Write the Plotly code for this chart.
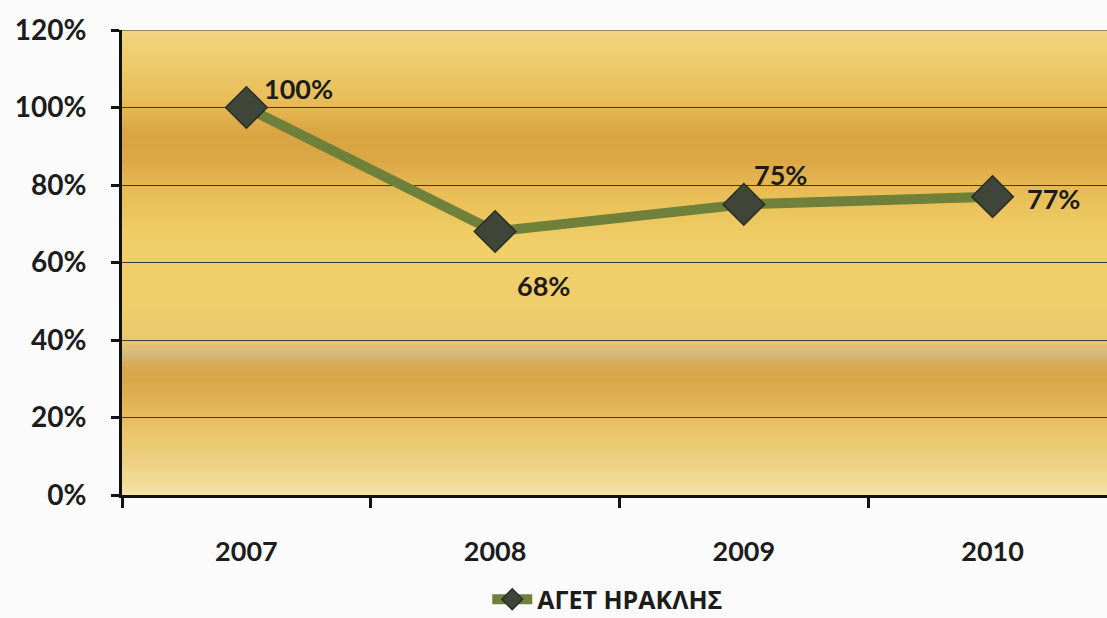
import plotly.graph_objects as go
import numpy as np

years = ["2007", "2008", "2009", "2010"]
values = [1.00, 0.68, 0.75, 0.77]
labels = ["100%", "68%", "75%", "77%"]
series_name = "ΑΓΕΤ ΗΡΑΚΛΗΣ"

# label offsets (pixels) relative to each point
label_shift = [(52, 19), (48, -54), (37, 30), (61, -2)]

FONT = "Lato"
TXT = "#1C1C1C"

fig = go.Figure()
fig.add_trace(go.Scatter(
    x=years, y=values, name=series_name, mode="lines+markers",
    line=dict(color="#6E8039", width=10),
    marker=dict(symbol="diamond", size=32, color="#3F4539",
                line=dict(color="#2A2E26", width=1.5)),
    showlegend=True,
))

for i, (y, t, (dx, dy)) in enumerate(zip(values, labels, label_shift)):
    fig.add_annotation(x=i, y=y, xref="x", yref="y", text=t, showarrow=False,
                       xshift=dx, yshift=dy,
                       font=dict(family=FONT, size=27, color=TXT, weight="bold"))

# gradient background for the plot area (decorative), stops in axis value units
stops = [
    (1.20, (242, 214, 130)),
    (1.12, (238, 204, 110)),
    (1.02, (232, 190, 90)),
    (0.93, (218, 164, 66)),
    (0.86, (220, 168, 70)),
    (0.78, (232, 190, 86)),
    (0.66, (240, 206, 104)),
    (0.50, (240, 208, 108)),
    (0.40, (234, 200, 108)),
    (0.365, (214, 184, 128)),
    (0.34, (216, 172, 90)),
    (0.30, (216, 166, 72)),
    (0.24, (224, 180, 84)),
    (0.16, (234, 198, 108)),
    (0.07, (238, 212, 134)),
    (0.00, (244, 228, 168)),
]
sp = np.array([s[0] for s in stops])[::-1]
cols = np.array([s[1] for s in stops], dtype=float)[::-1]
N = 160
for i in range(N):
    y0 = 1.2 * i / N
    y1 = 1.2 * (i + 1) / N
    ym = (y0 + y1) / 2
    c = [np.interp(ym, sp, cols[:, k]) for k in range(3)]
    fig.add_shape(type="rect", xref="x domain", yref="y",
                  x0=0, x1=1, y0=y0, y1=min(1.2, y1 + 0.002), layer="below",
                  line=dict(width=0),
                  fillcolor="rgb(%d,%d,%d)" % tuple(int(v) for v in c))

fig.update_layout(
    width=1107, height=618,
    margin=dict(l=122, r=0, t=30, b=123, autoexpand=False),
    paper_bgcolor="#FBFBFB",
    plot_bgcolor="rgba(0,0,0,0)",
    font=dict(family=FONT, color=TXT),
    legend=dict(orientation="h", x=0.549, xanchor="center", xref="container",
                y=0.03, yanchor="middle", yref="container",
                font=dict(family="Open Sans", size=25, color=TXT, weight="bold"),
                bgcolor="rgba(0,0,0,0)", itemwidth=40),
    showlegend=True,
)

fig.update_xaxes(
    type="category", range=[-0.5, 3.46],
    showline=True, linecolor="#111111", linewidth=3,
    ticks="outside", tickson="boundaries", ticklen=10, tickwidth=3,
    tickcolor="#111111", showgrid=False,
    tickfont=dict(family=FONT, size=27, color=TXT, weight="bold"),
    ticklabelstandoff=31,
)
fig.update_yaxes(
    range=[0, 1.2], dtick=0.2, tick0=0, tickformat=".0%",
    showline=True, linecolor="#111111", linewidth=3,
    ticks="outside", ticklen=8, tickwidth=3, tickcolor="#111111",
    showgrid=True, gridcolor="#3A3A34", gridwidth=1.2,
    tickfont=dict(family=FONT, size=28, color=TXT, weight="bold"),
    ticklabelstandoff=19,
    zeroline=False,
)
# top gridline at 120%
fig.add_hline(y=1.2, line=dict(color="#3A3A34", width=1.2))

fig.write_html("out.html")
